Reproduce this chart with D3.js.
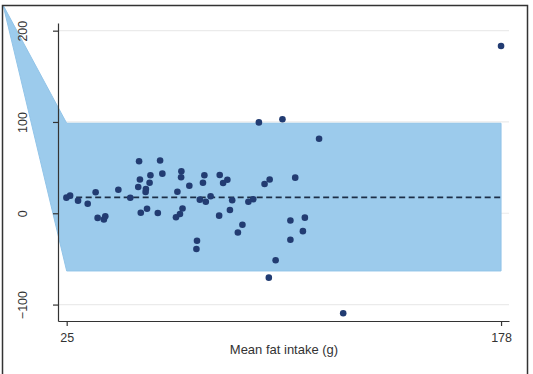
<!DOCTYPE html>
<html>
<head>
<meta charset="utf-8">
<script src="https://cdn.jsdelivr.net/npm/d3@7"></script>
<style>
  body { margin: 0; background: #fff; }
  svg text { font-family: "Liberation Sans", Arial, sans-serif; fill: #333; }
</style>
</head>
<body>
<div id="main"></div>
<script>
// mean fat intake (g) vs difference
let fatMean = [24.9, 26.2, 29.0, 32.4, 35.2, 35.9, 38.1, 38.6, 43.2, 47.4,
	50.5, 50.8, 50.2, 52.9, 52.8, 51.1, 53.3, 54.5, 54.2, 57.9,
	58.7, 57.1, 65.4, 65.3, 68.2, 64.0, 65.8, 64.9, 63.5, 73.5,
	73.0, 78.9, 81.6, 80.1, 71.9, 74.0, 75.7, 83.3, 78.7, 82.5,
	86.9, 85.3, 70.9, 70.7, 92.7, 101.0, 113.9, 94.7, 96.5, 105.5,
	89.0, 90.7, 103.8, 108.9, 108.2, 103.8, 98.6, 96.2, 122.4, 178.0];
let fatDiff = [17.1, 19.3, 13.8, 10.5, 23.0, -5.1, -6.8, -3.3, 25.8, 17.0,
	57.0, 37.0, 28.8, 26.6, 23.3, 0.5, 4.9, 41.7, 33.5, 57.8,
	43.4, 0.3, 46.0, 39.4, 30.1, 23.5, 5.3, -0.8, -4.3, 41.6,
	33.5, 41.9, 36.7, 33.2, 14.9, 12.6, 18.7, 14.3, -2.6, 3.6,
	-12.5, -21.0, -30.1, -39.1, 99.5, 103.0, 81.7, 32.1, 37.0, 39.0,
	12.6, 15.4, -7.9, -4.8, -19.6, -29.0, -51.4, -70.5, -109.5, 183.2];

// limits of agreement band
let bandX = [2.6, 25, 178];
let bandUpper = [228, 98.6, 98.6];
let bandLower = [228, -63.2, -63.2];
let meanDiff = 17.5;

let yTicks = [-100, 0, 100, 200];
let xTicks = [25, 178];

let width = 533, height = 374;

let svg = d3.select("#main").append("svg")
	.attr("width", width)
	.attr("height", height);

svg.append("defs").append("clipPath").attr("id", "frame")
	.append("rect").attr("x", 2.5).attr("y", 5.5).attr("width", 525).attr("height", 370);

var x = d3.scaleLinear().domain([21.94, 180.8]).range([58, 509]);
var y = d3.scaleLinear().domain([-118, 208.4]).range([321, 23]);

// grid
svg.append("g").selectAll("line")
	.data(yTicks)
	.enter().append("line")
	.attr("x1", 58).attr("x2", 509)
	.attr("y1", d => y(d)).attr("y2", d => y(d))
	.attr("stroke", "#ebebeb")
	.attr("stroke-width", 1.2);

// band
let band = bandX.map((d, i) => [d, bandUpper[i], bandLower[i]]);
svg.append("path")
	.datum(band)
	.attr("clip-path", "url(#frame)")
	.attr("fill", "#9ccbec")
	.attr("stroke", "#92c4e8")
	.attr("stroke-width", 1)
	.attr("d", d3.area()
		.x(d => x(d[0]))
		.y0(d => y(d[2]))
		.y1(d => y(d[1])));

// mean line
svg.append("line")
	.attr("x1", x(25)).attr("x2", x(178))
	.attr("y1", y(meanDiff)).attr("y2", y(meanDiff))
	.attr("stroke", "#1c2f47")
	.attr("stroke-width", 1.7)
	.attr("stroke-dasharray", "6,3.5");

// points
svg.append("g").selectAll("circle")
	.data(fatMean)
	.enter().append("circle")
	.attr("cx", d => x(d))
	.attr("cy", (d, i) => y(fatDiff[i]))
	.attr("r", 3.3)
	.attr("fill", "#223c72");

// axes
let yAxis = svg.append("g")
	.attr("transform", "translate(58,0)")
	.call(d3.axisLeft(y).tickValues(yTicks).tickSize(5).tickSizeOuter(0));
yAxis.selectAll("text")
	.attr("transform", "translate(-31.5,0) rotate(-90)")
	.attr("x", 0).attr("y", 0).attr("dy", 0)
	.attr("text-anchor", "middle")
	.style("font-size", "12.5px");

let xAxis = svg.append("g")
	.attr("transform", "translate(0,321)")
	.call(d3.axisBottom(x).tickValues(xTicks).tickSize(5).tickSizeOuter(0));
xAxis.selectAll("text")
	.attr("y", 20.7).attr("dy", 0)
	.style("font-size", "12.5px");

svg.selectAll(".domain, .tick line").attr("stroke", "#333").attr("stroke-width", 1.2);
svg.selectAll(".tick text").attr("fill", "#333");

svg.append("text")
	.attr("x", 284).attr("y", 354)
	.attr("text-anchor", "middle")
	.style("font-size", "13px")
	.text("Mean fat intake (g)");

// outer frame
svg.append("rect")
	.attr("x", 2.5).attr("y", 5.5)
	.attr("width", 525).attr("height", 370)
	.attr("fill", "none")
	.attr("stroke", "#333")
	.attr("stroke-width", 1.5);
</script>
</body>
</html>
